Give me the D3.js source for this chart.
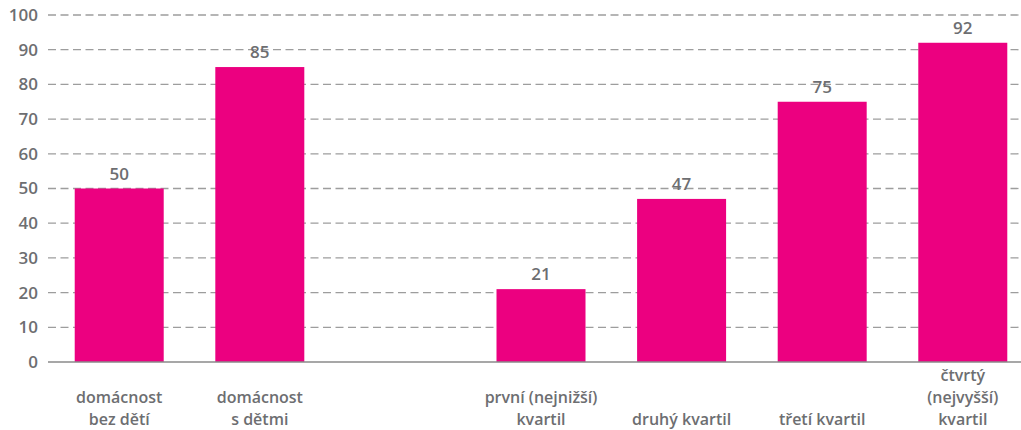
<!DOCTYPE html>
<html>
<head>
<meta charset="utf-8">
<script src="https://cdn.jsdelivr.net/npm/d3@7"></script>
<style>
  body { margin: 0; background: #fff; }
  text { font-family: "Open Sans", sans-serif; font-weight: 600; fill: #6d6e71; }
</style>
</head>
<body>
<svg id="vis"></svg>
<script>
// categories ("gap" is the empty slot between the two groups)
const categories = ["a", "b", "gap", "c", "d", "e", "f"];
const labels = [
  ["domácnost", "bez dětí"],
  ["domácnost", "s dětmi"],
  [],
  ["první (nejnižší)", "kvartil"],
  ["druhý kvartil"],
  ["třetí kvartil"],
  ["čtvrtý", "(nejvyšší)", "kvartil"]
];
const values = [50, 85, null, 21, 47, 75, 92];
const yTicks = [0, 10, 20, 30, 40, 50, 60, 70, 80, 90, 100];

let config = { svg: {}, plot: {} };
config.svg.width = 1021;
config.svg.height = 430;
config.plot.left = 48;
config.plot.right = 1034;
config.plot.top = 15;
config.plot.bottom = 362;

const svg = d3.select("svg#vis")
  .attr("width", config.svg.width)
  .attr("height", config.svg.height);

let scale = {};
scale.x = d3.scaleBand()
  .domain(categories)
  .range([config.plot.left, config.plot.right])
  .paddingInner(0.367)
  .paddingOuter(0.19);

scale.y = d3.scaleLinear()
  .domain([0, 100])
  .range([config.plot.bottom, config.plot.top]);

// gridlines
svg.append("g")
  .attr("id", "grid")
  .selectAll("line")
  .data(yTicks.filter(d => d > 0))
  .enter()
  .append("line")
  .attr("x1", config.plot.left)
  .attr("x2", 1019)
  .attr("y1", d => scale.y(d))
  .attr("y2", d => scale.y(d))
  .attr("stroke", "#9d9d9d")
  .attr("stroke-width", 1.3)
  .attr("stroke-dasharray", "8,4.5");

// y axis labels
let axisY = d3.axisLeft(scale.y)
  .tickValues(yTicks)
  .tickSize(0)
  .tickPadding(10);

let gy = svg.append("g")
  .attr("transform", "translate(" + config.plot.left + ",0)")
  .call(axisY);
gy.select(".domain").remove();
gy.selectAll("text")
  .attr("font-size", "17px")
  .attr("font-family", "'Open Sans', sans-serif")
  .attr("fill", "#6d6e71");

let data = categories.map((c, i) => ({ cat: c, value: values[i], label: labels[i] }));

// bars
svg.append("g")
  .selectAll("rect")
  .data(data.filter(d => d.value !== null))
  .enter()
  .append("rect")
  .attr("x", d => scale.x(d.cat))
  .attr("y", d => scale.y(d.value))
  .attr("width", scale.x.bandwidth())
  .attr("height", d => scale.y(0) - scale.y(d.value))
  .attr("fill", "#ec0080");

// value labels
svg.append("g")
  .selectAll("text")
  .data(data.filter(d => d.value !== null))
  .enter()
  .append("text")
  .attr("x", d => scale.x(d.cat) + scale.x.bandwidth() / 2)
  .attr("y", d => scale.y(d.value) - 9)
  .attr("text-anchor", "middle")
  .attr("font-size", "17px")
  .text(d => d.value);

// baseline
svg.append("line")
  .attr("x1", config.plot.left)
  .attr("x2", config.svg.width)
  .attr("y1", scale.y(0))
  .attr("y2", scale.y(0))
  .attr("stroke", "#8a8a8a")
  .attr("stroke-width", 1.5);

// category labels, bottom aligned
let lineHeight = 22;
let lastBaseline = 425;
let cats = svg.append("g")
  .selectAll("text")
  .data(data)
  .enter()
  .append("text")
  .attr("text-anchor", "middle")
  .attr("font-size", "16px");

cats.each(function(d) {
  let t = d3.select(this);
  let n = d.label.length;
  d.label.forEach((line, i) => {
    t.append("tspan")
      .attr("x", scale.x(d.cat) + scale.x.bandwidth() / 2)
      .attr("y", lastBaseline - (n - 1 - i) * lineHeight)
      .text(line);
  });
});
</script>
</body>
</html>
